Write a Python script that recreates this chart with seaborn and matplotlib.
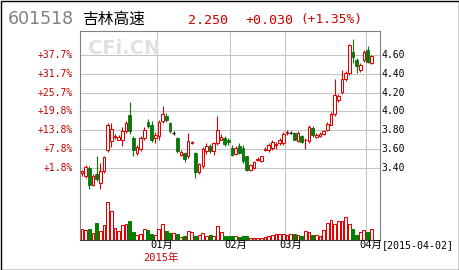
import numpy as np
import pandas as pd
import matplotlib
matplotlib.use("Agg")
import matplotlib.pyplot as plt
import seaborn as sns

# ---------------- data ----------------
opens = [3.34, 3.31, 3.40, 3.22, 3.33, 3.24, 3.37, 3.59, 3.68, 3.73,
         3.70, 3.70, 3.79, 3.96, 3.72, 3.56, 3.60, 3.72, 3.89, 3.86,
         3.72, 3.74, 3.90, 3.95, 3.88, 3.77, 3.72, 3.54, 3.56, 3.52,
         3.66, 3.56, 3.35, 3.42, 3.58, 3.63, 3.58, 3.66, 3.70, 3.72,
         3.70, 3.61, 3.55, 3.63, 3.61, 3.52, 3.38, 3.40, 3.48, 3.47,
         3.59, 3.59, 3.61, 3.64, 3.66, 3.66, 3.77, 3.77, 3.77, 3.68,
         3.74, 3.69, 3.68, 3.82, 3.73, 3.74, 3.76, 3.80, 3.86, 3.97,
         4.12, 4.21, 4.34, 4.41, 4.63, 4.55, 4.44, 4.55, 4.65, 4.51]
highs = [3.38, 3.43, 3.42, 3.33, 3.52, 3.45, 3.53, 3.88, 3.88, 3.76,
         3.75, 3.83, 3.90, 4.10, 3.74, 3.64, 3.74, 3.83, 3.92, 3.90,
         3.78, 3.91, 4.06, 3.98, 3.89, 3.79, 3.73, 3.59, 3.57, 3.77,
         3.68, 3.57, 3.45, 3.62, 3.66, 3.65, 3.67, 3.95, 3.76, 3.74,
         3.72, 3.64, 3.63, 3.66, 3.64, 3.53, 3.44, 3.47, 3.51, 3.53,
         3.62, 3.66, 3.69, 3.67, 3.72, 3.78, 3.80, 3.79, 3.78, 3.79,
         3.75, 3.72, 3.85, 3.84, 3.77, 3.78, 3.80, 3.89, 3.99, 4.34,
         4.19, 4.44, 4.43, 4.72, 4.77, 4.57, 4.51, 4.65, 4.70, 4.60]
lows = [3.31, 3.29, 3.17, 3.20, 3.26, 3.17, 3.34, 3.57, 3.62, 3.71,
        3.69, 3.63, 3.77, 3.76, 3.52, 3.54, 3.58, 3.70, 3.82, 3.67,
        3.66, 3.70, 3.88, 3.89, 3.77, 3.75, 3.56, 3.52, 3.46, 3.50,
        3.65, 3.29, 3.33, 3.40, 3.55, 3.56, 3.54, 3.64, 3.69, 3.63,
        3.64, 3.52, 3.54, 3.55, 3.45, 3.36, 3.37, 3.39, 3.47, 3.46,
        3.58, 3.57, 3.59, 3.60, 3.64, 3.64, 3.75, 3.76, 3.69, 3.67,
        3.66, 3.60, 3.66, 3.73, 3.72, 3.73, 3.75, 3.79, 3.85, 3.95,
        4.10, 4.19, 4.32, 4.39, 4.52, 4.41, 4.42, 4.53, 4.51, 4.50]
closes = [3.36, 3.41, 3.22, 3.31, 3.28, 3.37, 3.51, 3.86, 3.81, 3.74,
          3.73, 3.79, 3.88, 3.79, 3.59, 3.62, 3.72, 3.80, 3.84, 3.70,
          3.75, 3.89, 3.97, 3.91, 3.79, 3.77, 3.58, 3.57, 3.49, 3.68,
          3.67, 3.35, 3.44, 3.60, 3.63, 3.58, 3.66, 3.80, 3.73, 3.65,
          3.67, 3.54, 3.61, 3.56, 3.47, 3.38, 3.43, 3.46, 3.49, 3.52,
          3.60, 3.64, 3.67, 3.65, 3.70, 3.76, 3.78, 3.77, 3.70, 3.77,
          3.67, 3.70, 3.83, 3.75, 3.75, 3.76, 3.79, 3.87, 3.97, 4.17,
          4.16, 4.34, 4.41, 4.71, 4.58, 4.48, 4.49, 4.63, 4.53, 4.59]
volumes = [32, 30, 32, 20, 50, 27, 44, 114, 87, 35,
           27, 44, 47, 57, 24, 14, 17, 32, 30, 17,
           14, 32, 47, 27, 19, 19, 17, 7, 12, 25,
           24, 12, 14, 20, 12, 14, 12, 42, 24, 12,
           12, 10, 10, 9, 10, 12, 5, 5, 5, 5,
           8, 12, 15, 18, 18, 18, 15, 18, 18, 13,
           10, 26, 23, 13, 15, 12, 28, 50, 60, 48,
           56, 56, 68, 48, 33, 13, 23, 28, 23, 33]
month_idx = [21, 41, 56, 78]
month_labels = ["01月", "02月", "03月", "04月"]
price_ticks = [3.40, 3.60, 3.80, 4.00, 4.20, 4.40, 4.60]
price_labels = ["3.40", "3.60", "3.80", "4.00", "4.20", "4.40", "4.60"]
pct_labels = ["+1.8%", "+7.8%", "+13.8%", "+19.8%", "+25.7%", "+31.7%", "+37.7%"]
code_text = "601518"
name_text = "吉林高速"
last_text = "2.250"
chg_text = "+0.030"
pct_text = "(+1.35%)"
year_text = "2015年"
date_text = "[2015-04-02]"

# ---------------- style ----------------
sns.set_style("white")
plt.rcParams["font.family"] = ["DejaVu Sans Mono", "Noto Sans CJK SC"]

RED = "#e00000"
GREEN = "#008000"
GRID = "#c4c4c4"
FRAME = "#808080"
MONO = ["DejaVu Sans Mono", "Noto Sans CJK SC"]

W, H = 460, 270
fig = plt.figure(figsize=(W / 100, H / 100), dpi=100)
fig.patch.set_facecolor("white")

x0, x1 = 80, 380
yt, ym, yb = 31, 197, 239.5
axp = fig.add_axes([x0 / W, (H - ym) / H, (x1 - x0) / W, (ym - yt) / H])
axv = fig.add_axes([x0 / W, (H - yb) / H, (x1 - x0) / W, (yb - ym) / H])

n = len(opens)
idx = np.arange(n)
o = np.array(opens); c = np.array(closes)
hi = np.array(highs); lo = np.array(lows)
up = c > o
down = c < o
flat = c == o

xlim = (-0.55, 81.4)
for ax in (axp, axv):
    ax.set_xlim(*xlim)
    ax.set_xticks([]); ax.set_yticks([])
    for s in ax.spines.values():
        s.set_color(FRAME)
        s.set_linewidth(0.8)
axp.spines["bottom"].set_visible(False)
axv.spines["top"].set_visible(False)
axv.spines["bottom"].set_color("#404040")

axp.set_ylim(3.088, 4.856)

# grid
for p in price_ticks:
    axp.axhline(p, color=GRID, lw=0.75, zorder=0)
for m in month_idx:
    axp.axvline(m - 0.45, color=GRID, lw=0.75, zorder=0)
    axv.axvline(m - 0.45, color=GRID, lw=0.75, zorder=0)

# candles
wick_col = np.where(up, RED, np.where(down, GREEN, "black"))
axp.vlines(idx, lo, hi, colors=wick_col, lw=0.8, zorder=2)
bw = 0.72
axp.bar(idx[up], (c - o)[up], bottom=o[up], width=bw, facecolor="white",
        edgecolor=RED, linewidth=0.75, zorder=3)
axp.bar(idx[down], (o - c)[down], bottom=c[down], width=bw, facecolor=GREEN,
        edgecolor="#005a00", linewidth=0.5, zorder=3)
axp.hlines(c[flat], idx[flat] - bw / 2, idx[flat] + bw / 2, colors="black", lw=0.9, zorder=3)

# watermark
axp.text(8 / 300, (197 - 48.5) / 166, "CFi.CN", transform=axp.transAxes,
         fontsize=14, fontweight="bold", color="#e0e0e0", family="DejaVu Sans",
         ha="left", va="center", zorder=1)

# price labels
for p, lab, pl in zip(price_ticks, price_labels, pct_labels):
    axp.text(1.006, p, lab, transform=axp.get_yaxis_transform(), ha="left",
             va="center", fontsize=7, color="black", family=MONO)
    axp.text(-0.024, p, pl, transform=axp.get_yaxis_transform(), ha="right",
             va="center", fontsize=7, color="#c00000", family=MONO)

# volume via seaborn
dirs = np.where(down, "down", "up")
vdf = pd.DataFrame({"idx": idx, "vol": volumes, "dir": dirs})
sns.barplot(data=vdf, x="idx", y="vol", hue="dir", hue_order=["up", "down"],
            palette={"up": "white", "down": GREEN}, native_scale=True,
            dodge=False, errorbar=None, width=0.8, legend=False, ax=axv,
            linewidth=0.75, edgecolor=RED, zorder=2)
vw = 0.78
for patch in axv.patches:
    k = int(round(patch.get_x() + patch.get_width() / 2))
    patch.set_width(vw)
    patch.set_x(k - vw / 2)
    if 0 <= k < n and down[k]:
        patch.set_facecolor(GREEN)
        patch.set_edgecolor(GREEN)
    else:
        patch.set_facecolor("white")
        patch.set_edgecolor(RED)
axv.set_xlim(*xlim)
axv.set_ylim(0, 127.5)
axv.set_xticks([]); axv.set_yticks([])
axv.set_xlabel(""); axv.set_ylabel("")

# month labels
for m, lab in zip(month_idx, month_labels):
    axv.text(m - 2.2, -0.13, lab, transform=axv.get_xaxis_transform(),
             ha="left", va="center", fontsize=7.5, color="black", family=MONO)
axv.text(month_idx[0] + 0.6, -0.44, year_text, transform=axv.get_xaxis_transform(),
         ha="center", va="center", fontsize=7.5, color="#c00000", family=MONO)
fig.text(381.5 / W, 1 - 245 / H, date_text, ha="left", va="center",
         fontsize=7.2, color="black", family=MONO)

# header
fig.text(8 / W, 1 - 19.5 / H, code_text, ha="left", va="center", fontsize=12.5,
         color="#808080", family="DejaVu Sans")
fig.text(82 / W, 1 - 19.5 / H, name_text, ha="left", va="center", fontsize=11.3,
         color="black", family=["Noto Sans CJK SC", "DejaVu Sans"])
fig.text(188 / W, 1 - 20 / H, last_text, ha="left", va="center", fontsize=9.6,
         color="#d00000", family=MONO)
fig.text(245 / W, 1 - 20 / H, chg_text, ha="left", va="center", fontsize=9.6,
         color="#d00000", family=MONO)
fig.text(300 / W, 1 - 20 / H, pct_text, ha="left", va="center", fontsize=9.3,
         color="#d00000", family=MONO)

# outer border
fig.add_artist(plt.Rectangle((0.5 / W, 0.5 / H), (W - 1.5) / W, (H - 1.5) / H,
                             transform=fig.transFigure, fill=False,
                             edgecolor="black", lw=1.0))

fig.savefig("out.png", dpi=100, facecolor="white")
